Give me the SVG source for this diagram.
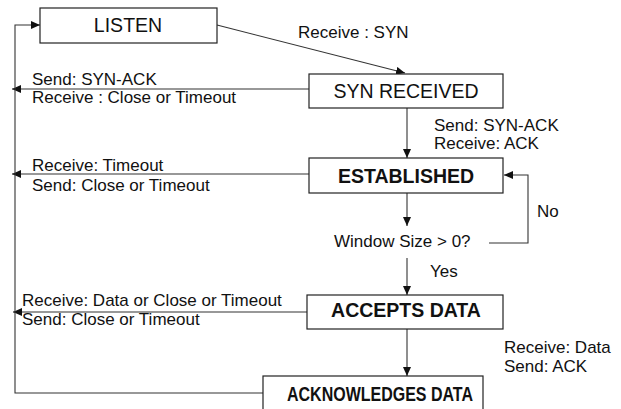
<svg xmlns="http://www.w3.org/2000/svg" width="621" height="409" viewBox="0 0 621 409">
<style>
.box{fill:#fff;stroke:#222;stroke-width:1.2}
.t{font-family:"Liberation Sans",Arial,sans-serif;fill:#111}
.bt{font-size:19.5px;text-anchor:middle}
.bold{font-weight:bold}
.lbl{font-size:17px}
.c{fill:none;stroke:#333;stroke-width:1.1}
</style>
<defs>
<marker id="ah" markerUnits="userSpaceOnUse" markerWidth="10" markerHeight="8" refX="9" refY="4" orient="auto">
<path d="M0,0 L9,4 L0,8 Z" fill="#111"/>
</marker>
</defs>
<rect width="621" height="409" fill="#fff"/>
<g id="connectors">
<line class="c" x1="217" y1="25" x2="405" y2="73" marker-end="url(#ah)"/>
<line class="c" x1="407" y1="108" x2="407" y2="158" marker-end="url(#ah)"/>
<line class="c" x1="407" y1="193" x2="407" y2="226" marker-end="url(#ah)"/>
<polyline class="c" points="489,243 528,243 528,175 504,175" marker-end="url(#ah)"/>
<line class="c" x1="407" y1="258" x2="407" y2="295" marker-end="url(#ah)"/>
<line class="c" x1="407" y1="329" x2="407" y2="376" marker-end="url(#ah)"/>
<line class="c" x1="309" y1="89" x2="12" y2="89" marker-end="url(#ah)"/>
<line class="c" x1="309" y1="174" x2="12" y2="174" marker-end="url(#ah)"/>
<line class="c" x1="307" y1="312" x2="13" y2="312" marker-end="url(#ah)"/>
<polyline class="c" points="263,393 15,393 15,25 40,25" marker-end="url(#ah)"/>
<text class="t lbl" x="298" y="38">Receive : SYN</text>
<text class="t lbl" x="32" y="85">Send: SYN-ACK</text>
<text class="t lbl" x="32" y="103">Receive : Close or Timeout</text>
<text class="t lbl" x="434" y="131">Send: SYN-ACK</text>
<text class="t lbl" x="434" y="149">Receive: ACK</text>
<text class="t lbl" x="32" y="171">Receive: Timeout</text>
<text class="t lbl" x="32" y="191">Send: Close or Timeout</text>
<text class="t lbl" x="537" y="217">No</text>
<text class="t lbl" x="334" y="247">Window Size &gt; 0?</text>
<text class="t lbl" x="430" y="277">Yes</text>
<text class="t lbl" x="22" y="306">Receive: Data or Close or Timeout</text>
<text class="t lbl" x="22" y="325">Send: Close or Timeout</text>
<text class="t lbl" x="504" y="353">Receive: Data</text>
<text class="t lbl" x="504" y="372">Send: ACK</text>
</g>
<g id="listen">
<rect class="box" x="40" y="8" width="177" height="35"/>
<text class="t bt" x="128" y="32">LISTEN</text>
</g>
<g id="syn-received">
<rect class="box" x="309" y="74" width="194" height="34"/>
<text class="t bt" x="406" y="98">SYN RECEIVED</text>
</g>
<g id="established">
<rect class="box" x="309" y="158" width="194" height="35"/>
<text class="t bt bold" x="406" y="183">ESTABLISHED</text>
</g>
<g id="accepts-data">
<rect class="box" x="307" y="295" width="196" height="34"/>
<text class="t bt bold" x="406" y="317">ACCEPTS DATA</text>
</g>
<g id="acknowledges-data">
<rect class="box" x="263" y="376" width="220" height="45"/>
<text class="t bt bold" x="380" y="401" textLength="186" lengthAdjust="spacingAndGlyphs">ACKNOWLEDGES DATA</text>
</g>
</svg>
